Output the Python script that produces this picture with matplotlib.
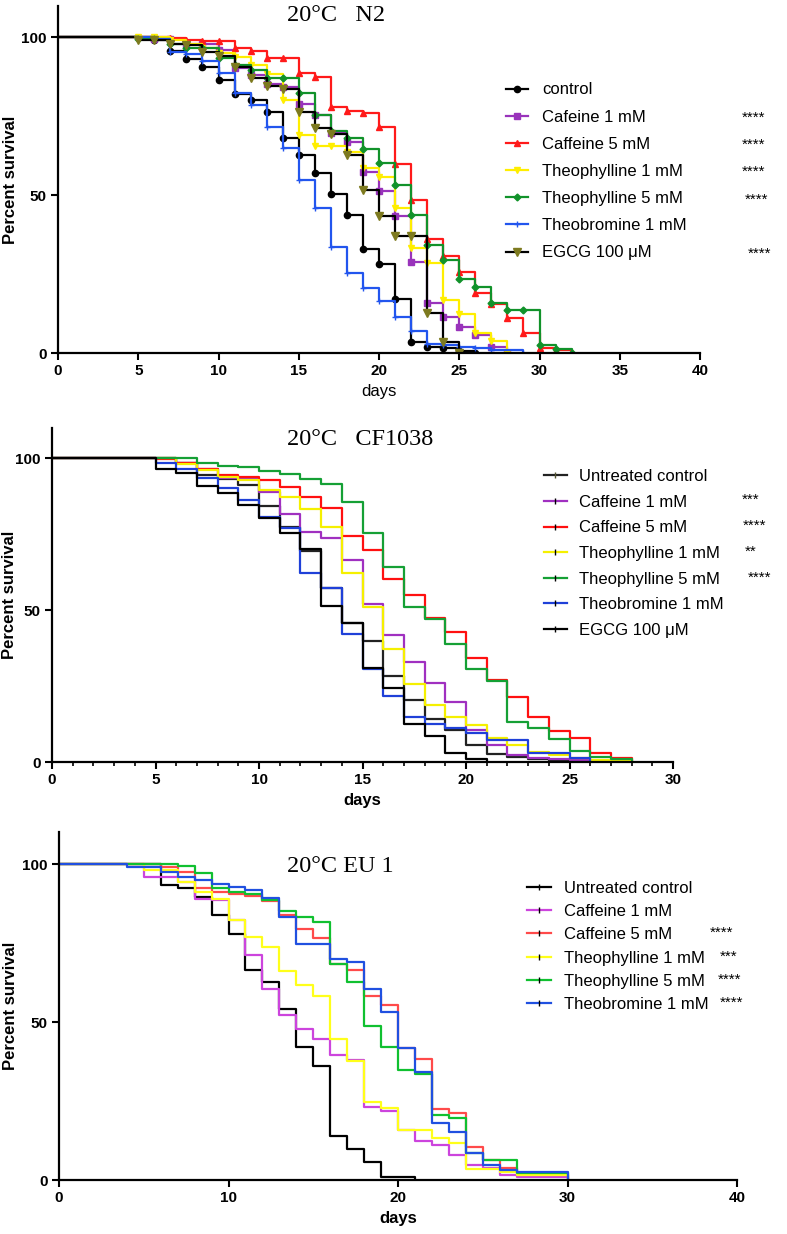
import matplotlib
matplotlib.use('Agg')
import matplotlib.pyplot as plt
from matplotlib.lines import Line2D
from matplotlib.ticker import MultipleLocator

plt.rcParams['font.family'] = ['Liberation Sans', 'DejaVu Sans']

# ---------------- data: (day, percent survival) ----------------
# panel 1: 20°C N2
n2_control = [(0, 100), (6, 99.3), (7, 95.8), (8, 93.0), (9, 90.7), (10, 86.4), (11, 82.0), (12, 80.2),
              (13, 76.3), (14, 68.0), (15, 62.8), (16, 57.0), (17, 50.5), (18, 43.8), (19, 32.9), (20, 28.2),
              (21, 17.1), (22, 3.7), (23, 2.1), (24, 1.6), (25, 0.7), (26, 0)]
n2_caf1 = [(0, 100), (6, 99.4), (7, 99.4), (8, 98.0), (9, 98.0), (10, 96.0), (11, 90.4), (12, 88.1), (13, 85.1),
           (14, 84.4), (15, 78.9), (16, 75.4), (17, 69.6), (18, 66.8), (19, 57.3), (20, 51.3), (21, 43.4),
           (22, 28.8), (23, 15.8), (24, 11.6), (25, 8.4), (26, 5.8), (27, 2.1), (28, 0)]
n2_caf5 = [(0, 100), (7, 99.7), (8, 99.1), (9, 98.9), (10, 98.9), (11, 96.5), (12, 95.7), (13, 93.5), (14, 93.5),
           (15, 88.8), (16, 87.5), (17, 78.0), (18, 76.8), (19, 75.9), (20, 71.5), (21, 59.8), (22, 48.5),
           (23, 36.1), (24, 30.8), (25, 25.8), (26, 19.0), (27, 15.6), (28, 11.1), (29, 6.3), (30, 1.6),
           (31, 1.0), (32, 0)]
n2_theo1 = [(0, 100), (5, 100), (6, 100), (7, 99.0), (8, 98.0), (9, 96.5), (10, 95.0), (11, 93.7), (12, 91.2),
            (13, 88.3), (14, 80.2), (15, 69.1), (16, 65.5), (17, 65.5), (18, 63.8), (19, 58.5), (20, 55.9),
            (21, 45.9), (22, 33.2), (23, 28.5), (24, 16.9), (25, 12.4), (26, 6.4), (27, 3.8), (28, 0)]
n2_theo5 = [(0, 100), (5, 99.4), (6, 99.4), (7, 98.0), (8, 96.7), (9, 96.7), (10, 93.3), (11, 91.2), (12, 89.6),
            (13, 87.0), (14, 87.0), (15, 82.3), (16, 75.4), (17, 70.3), (18, 68.0), (19, 64.8), (20, 60.2),
            (21, 53.3), (22, 43.8), (23, 34.3), (24, 29.5), (25, 23.4), (26, 20.9), (27, 16.0), (28, 13.6),
            (29, 13.6), (30, 2.5), (31, 1.3), (32, 0)]
n2_theob1 = [(0, 100), (6, 99.4), (7, 95.4), (8, 94.7), (9, 92.5), (10, 88.6), (11, 82.3), (12, 78.6),
             (13, 71.7), (14, 64.9), (15, 54.8), (16, 46.1), (17, 33.7), (18, 25.5), (19, 20.6), (20, 16.4),
             (21, 11.6), (22, 6.9), (23, 2.8), (24, 2.5), (25, 1.9), (26, 1.6), (27, 0.9), (29, 0)]
n2_egcg = [(0, 100), (5, 99.2), (6, 99.2), (7, 98.0), (8, 97.5), (9, 95.4), (10, 94.0), (11, 90.5), (12, 87.0),
           (13, 84.5), (14, 83.5), (15, 76.3), (16, 71.2), (17, 69.5), (18, 62.8), (19, 51.7), (20, 43.5),
           (21, 37.1), (22, 37.1), (23, 12.9), (24, 3.7), (25, 0)]

# panel 2: 20°C CF1038
cf_untreated = [(0, 100), (5, 100), (6, 98.5), (7, 94.5), (8, 93.0), (9, 91.1), (10, 84.2), (11, 77.4),
                (12, 69.4), (13, 57.1), (14, 45.8), (15, 39.8), (16, 28.3), (17, 20.3), (18, 14.0), (19, 10.6),
                (20, 5.6), (21, 2.5), (22, 1.5), (23, 1.0), (24, 0.3), (25, 0)]
cf_caf1 = [(0, 100), (5, 100), (6, 98.2), (7, 96.3), (8, 93.5), (9, 93.0), (10, 88.9), (11, 81.6), (12, 75.5),
           (13, 73.6), (14, 66.4), (15, 51.9), (16, 41.8), (17, 32.9), (18, 26.1), (19, 19.8), (20, 10.6),
           (21, 5.6), (22, 2.4), (23, 1.3), (24, 1.0), (25, 0.8), (26, 0)]
cf_caf5 = [(0, 100), (5, 99.8), (6, 98.3), (7, 96.4), (8, 94.4), (9, 93.7), (10, 92.6), (11, 90.3), (12, 87.3),
           (13, 83.5), (14, 74.4), (15, 69.7), (16, 60.2), (17, 54.9), (18, 47.3), (19, 42.9), (20, 34.1),
           (21, 27.0), (22, 21.5), (23, 14.9), (24, 10.2), (25, 7.8), (26, 2.9), (27, 1.2), (28, 0)]
cf_theo1 = [(0, 100), (5, 100), (6, 98.0), (7, 96.0), (8, 93.8), (9, 92.7), (10, 89.5), (11, 87.1), (12, 83.1),
            (13, 77.2), (14, 62.1), (15, 51.1), (16, 37.2), (17, 25.6), (18, 18.8), (19, 14.8), (20, 12.2),
            (21, 7.8), (22, 5.7), (23, 3.3), (24, 2.3), (25, 1.2), (26, 0.8), (28, 0)]
cf_theo5 = [(0, 100), (7, 98.5), (8, 97.4), (9, 97.1), (10, 95.6), (11, 94.8), (12, 93.0), (13, 91.4),
            (14, 85.5), (15, 75.2), (16, 64.0), (17, 50.9), (18, 47.0), (19, 38.8), (20, 30.5), (21, 26.6),
            (22, 13.3), (23, 11.1), (24, 7.6), (25, 3.7), (26, 1.7), (27, 0.9), (28, 0)]
cf_theob1 = [(0, 100), (5, 98.5), (6, 96.4), (7, 93.3), (8, 90.1), (9, 86.2), (10, 80.5), (11, 76.9),
             (12, 62.1), (13, 57.1), (14, 42.1), (15, 30.7), (16, 21.8), (17, 14.9), (18, 12.5), (19, 11.1),
             (20, 9.4), (21, 7.2), (22, 7.2), (23, 2.9), (24, 2.9), (25, 1.2), (26, 0)]
cf_egcg = [(0, 100), (5, 96.3), (6, 95.0), (7, 90.8), (8, 88.6), (9, 84.5), (10, 80.2), (11, 75.4), (12, 70.1),
           (13, 51.3), (14, 45.6), (15, 30.8), (16, 24.2), (17, 12.5), (18, 8.5), (19, 2.8), (20, 1.0), (21, 0)]

# panel 3: 20°C EU 1
eu_untreated = [(0, 100), (6, 93.5), (7, 92.4), (8, 89.7), (9, 83.8), (10, 77.7), (11, 66.5), (12, 62.8),
                (13, 54.1), (14, 42.0), (15, 36.2), (16, 14.0), (17, 9.7), (18, 5.8), (19, 1.1), (21, 0)]
eu_caf1 = [(0, 100), (5, 96.0), (7, 94.3), (8, 89.0), (9, 88.5), (10, 82.2), (11, 71.2), (12, 60.3), (13, 52.2),
           (14, 47.7), (15, 44.5), (16, 39.6), (17, 38.0), (18, 23.2), (19, 21.8), (20, 15.8), (21, 12.4),
           (22, 11.1), (23, 7.9), (24, 4.7), (25, 3.7), (26, 1.6), (27, 1.1), (30, 0)]
eu_caf5 = [(0, 100), (6, 99.0), (7, 97.5), (8, 92.5), (9, 91.0), (10, 90.6), (11, 89.8), (12, 88.2), (13, 84.0),
           (14, 79.5), (15, 76.6), (16, 68.5), (17, 66.3), (18, 58.1), (19, 55.4), (20, 41.7), (21, 38.2),
           (22, 22.4), (23, 21.1), (24, 10.5), (25, 6.3), (26, 3.7), (27, 1.6), (30, 0)]
eu_theo1 = [(0, 100), (5, 98.0), (7, 94.4), (8, 91.2), (9, 88.9), (10, 82.2), (11, 77.0), (12, 73.6), (13, 66.2),
            (14, 61.8), (15, 58.2), (16, 44.6), (17, 37.7), (18, 24.8), (19, 22.7), (20, 15.8), (22, 13.2),
            (23, 11.8), (24, 3.4), (26, 2.6), (27, 1.6), (30, 0)]
eu_theo5 = [(0, 100), (7, 99.5), (8, 97.0), (9, 92.5), (10, 91.2), (11, 90.5), (12, 88.5), (13, 85.2),
            (14, 83.3), (15, 81.7), (16, 68.5), (17, 62.7), (18, 48.6), (19, 42.0), (20, 34.8), (21, 33.6),
            (22, 20.6), (23, 19.5), (24, 8.4), (25, 6.3), (27, 2.1), (30, 0)]
eu_theob1 = [(0, 100), (4, 99.0), (6, 97.5), (7, 95.8), (8, 94.9), (9, 93.6), (10, 92.8), (11, 91.8),
             (12, 89.1), (13, 83.3), (14, 74.7), (16, 69.8), (17, 68.9), (18, 60.4), (19, 53.3), (20, 41.7),
             (21, 34.3), (22, 17.9), (23, 15.3), (24, 8.4), (25, 4.7), (26, 3.2), (27, 2.6), (30, 0)]

n2_labels = ['control', 'Cafeine 1 mM', 'Caffeine 5 mM', 'Theophylline 1 mM', 'Theophylline 5 mM',
             'Theobromine 1 mM', 'EGCG 100 \u03bcM']
cf_labels = ['Untreated control', 'Caffeine 1 mM', 'Caffeine 5 mM', 'Theophylline 1 mM', 'Theophylline 5 mM',
             'Theobromine 1 mM', 'EGCG 100 \u03bcM']
eu_labels = cf_labels[:6]

n2_stars = ['', '****', '****', '****', '****', '', '****']
cf_stars = ['', '***', '****', '**', '****', '', '']
eu_stars = ['', '', '****', '***', '****', '****']

# ---------------- figure ----------------
W, H = 787, 1234
fig = plt.figure(figsize=(W / 100, H / 100), dpi=100)


def add_axes_px(left, right, bottom, top):
    return fig.add_axes([left / W, 1 - bottom / H, (right - left) / W, (bottom - top) / H])


def style(ax, xmax, xmajor, label_x, xminor=None, xlabel_bold=True):
    for s in ['top', 'right']:
        ax.spines[s].set_visible(False)
    for s in ['left', 'bottom']:
        ax.spines[s].set_linewidth(1.6)
    ax.set_xlim(0, xmax)
    ax.set_ylim(0, 110)
    ax.set_yticks([0, 50, 100])
    ax.xaxis.set_major_locator(MultipleLocator(xmajor))
    if xminor:
        ax.xaxis.set_minor_locator(MultipleLocator(xminor))
        ax.tick_params(axis='x', which='minor', direction='out', length=3, width=1.2)
    ax.tick_params(which='major', direction='out', length=5, width=1.5, labelsize=11, pad=3)
    for lbl in ax.get_xticklabels() + ax.get_yticklabels():
        lbl.set_fontweight('bold')
    ax.set_ylabel('Percent survival', fontsize=12, fontweight='bold')
    ax.yaxis.set_label_coords(label_x, 0.5)
    ax.set_xlabel('days', fontsize=12, fontweight='bold' if xlabel_bold else 'normal', labelpad=4)


def draw(ax, data, **kw):
    xs = [d for d, _ in data]
    ys = [v for _, v in data]
    line, = ax.step(xs, ys, where='post', lw=1.6, **kw)
    return line


def stars(texts, xs, ys):
    for t, x, y in zip(texts, xs, ys):
        if t:
            fig.text(x / W, 1 - y / H, t, fontsize=11, va='center', ha='left')


title_font = dict(family=['Liberation Serif', 'DejaVu Serif'], fontsize=17.5, va='baseline')

# ---- panel 1 ----
ax1 = add_axes_px(58, 700, 353.3, 5.7)
n2_series = [n2_control, n2_caf1, n2_caf5, n2_theo1, n2_theo5, n2_theob1, n2_egcg]
n2_colors = ['black', '#9933bb', '#ff1a1a', '#ffee00', '#11922a', '#2255ee', 'black']
n2_markers = ['o', 's', '^', 'v', 'D', '+', 'v']
n2_msize = [4.5, 4, 4.5, 4.5, 3.5, 4, 6]
n2_mcolors = ['black', '#9933bb', '#ff1a1a', '#ffee00', '#11922a', '#2255ee', '#7d7a1f']
h1 = []
for data, c, m, ms, mc, lab in zip(n2_series, n2_colors, n2_markers, n2_msize, n2_mcolors, n2_labels):
    h1.append(draw(ax1, data, color=c, marker=m, ms=ms, mfc=mc, mec=mc, markevery=slice(1, None), label=lab))
style(ax1, 40, 5, -0.063, xlabel_bold=False)
ax1.text(14.27, 105.3, '20\u00b0C   N2', **title_font)
ax1.legend(handles=h1, loc='upper left', bbox_to_anchor=(506 / W, 1 - 82.5 / H), bbox_transform=fig.transFigure,
           frameon=False, fontsize=12, borderpad=0, borderaxespad=0, handlelength=1.3, handletextpad=0.85,
           labelspacing=0.73, numpoints=1)
n2_rows = [90, 117.5, 145, 172, 200, 227, 254]
stars(n2_stars, [0, 742, 742, 742, 745, 0, 748], n2_rows)

# ---- panel 2 ----
ax2 = add_axes_px(52, 673, 762, 427.6)
cf_series = [cf_untreated, cf_caf1, cf_caf5, cf_theo1, cf_theo5, cf_theob1, cf_egcg]
cf_colors = ['#222222', '#a030c0', '#ff1010', '#f5f000', '#15a035', '#1f40d8', 'black']
for data, c in zip(cf_series, cf_colors):
    draw(ax2, data, color=c)
style(ax2, 30, 5, -0.056, xminor=1)
ax2.text(11.35, 104.3, '20\u00b0C   CF1038', **title_font)
h2 = [Line2D([], [], color=c, lw=1.6, marker='|', ms=4, mec='#555533' if i == 0 else 'black', mew=1)
      for i, c in enumerate(cf_colors)]
ax2.legend(handles=h2, labels=cf_labels, loc='upper left', bbox_to_anchor=(544 / W, 1 - 469 / H),
           bbox_transform=fig.transFigure, frameon=False, fontsize=12, borderpad=0, borderaxespad=0,
           handlelength=1.35, handletextpad=0.75, labelspacing=0.64, numpoints=1)
cf_rows = [475, 500, 526, 552, 578, 603, 629]
stars(cf_stars, [0, 742, 743, 745, 748, 0, 0], cf_rows)

# ---- panel 3 ----
ax3 = add_axes_px(59, 737, 1180, 832.4)
eu_series = [eu_untreated, eu_caf1, eu_caf5, eu_theo1, eu_theo5, eu_theob1]
eu_colors = ['black', '#cc44dd', '#ff4a4a', '#ffff1a', '#10c030', '#2050e0']
for data, c in zip(eu_series, eu_colors):
    draw(ax3, data, color=c)
style(ax3, 40, 10, -0.061)
ax3.text(13.45, 97.6, '20\u00b0C EU 1', **title_font)
h3 = [Line2D([], [], color=c, lw=1.6, marker='|', ms=4, mec='black', mew=1) for c in eu_colors]
ax3.legend(handles=h3, labels=eu_labels, loc='upper left', bbox_to_anchor=(527 / W, 1 - 881 / H),
           bbox_transform=fig.transFigure, frameon=False, fontsize=12, borderpad=0, borderaxespad=0,
           handlelength=1.45, handletextpad=0.75, labelspacing=0.49, numpoints=1)
eu_rows = [887, 910, 933, 957, 980, 1003]
stars(eu_stars, [0, 0, 710, 720, 718, 720], eu_rows)

fig.savefig('out.png', dpi=100)
